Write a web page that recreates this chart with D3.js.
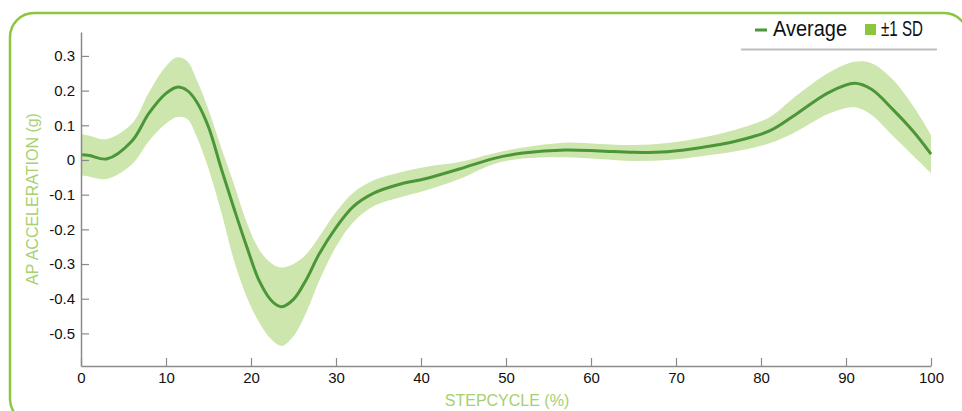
<!DOCTYPE html>
<html>
<head>
<meta charset="utf-8">
<script src="https://cdn.jsdelivr.net/npm/d3@7"></script>
<style>
  body { margin: 0; background: #fff; }
  svg { display: block; font-family: "Liberation Sans", Arial, sans-serif; }
</style>
</head>
<body>
<div id="chart"></div>
<script>
// step cycle (%) and AP acceleration (g)
const stepcycle = [0, 1, 3, 6, 8, 10, 11.3, 12.5, 13.6, 15, 16.5, 18, 19.5, 21, 22.5, 23.6, 25, 26.5, 28, 30,
  32, 34.5, 37.5, 40.5, 44.5, 48.5, 52, 57, 61, 65, 69, 73, 77, 81, 84, 88, 91, 93, 95.5, 98, 100]
const average = [0.015, 0.013, 0.003, 0.055, 0.135, 0.192, 0.21, 0.2, 0.168, 0.095, -0.025, -0.14, -0.25, -0.35, -0.408, -0.423, -0.402, -0.345, -0.272, -0.195,
  -0.135, -0.095, -0.07, -0.054, -0.026, 0.004, 0.02, 0.029, 0.026, 0.022, 0.024, 0.036, 0.054, 0.084, 0.13, 0.195, 0.221, 0.204, 0.146, 0.08, 0.017]
const sdUpper = [0.075, 0.07, 0.06, 0.105, 0.195, 0.27, 0.296, 0.285, 0.232, 0.145, 0.035, -0.07, -0.18, -0.26, -0.3, -0.31, -0.3, -0.272, -0.222, -0.15,
  -0.095, -0.058, -0.036, -0.02, -0.006, 0.019, 0.036, 0.05, 0.046, 0.043, 0.049, 0.064, 0.087, 0.123, 0.182, 0.252, 0.283, 0.279, 0.232, 0.152, 0.072]
const sdLower = [-0.045, -0.048, -0.055, -0.012, 0.055, 0.105, 0.124, 0.118, 0.068, -0.025, -0.15, -0.29, -0.395, -0.47, -0.52, -0.536, -0.508, -0.44, -0.35, -0.25,
  -0.18, -0.132, -0.108, -0.088, -0.055, -0.012, 0.004, 0.008, 0.003, -0.003, 0.0, 0.011, 0.025, 0.048, 0.08, 0.134, 0.152, 0.13, 0.07, 0.01, -0.038]
const xTicks = [0, 10, 20, 30, 40, 50, 60, 70, 80, 90, 100]
const yTicks = [0.3, 0.2, 0.1, 0, -0.1, -0.2, -0.3, -0.4, -0.5]

const width = 962
const height = 411
const green = '#8cc63f'
const lineGreen = '#4b9638'
const bandGreen = '#cde6ad'

const svg = d3.select('#chart').append('svg')
  .attr('width', width)
  .attr('height', height)

// frame
svg.append('rect')
  .attr('x', 10).attr('y', 13)
  .attr('width', 958).attr('height', 410)
  .attr('rx', 24).attr('ry', 24)
  .attr('fill', 'none')
  .attr('stroke', green)
  .attr('stroke-width', 2.5)

const x = d3.scaleLinear().domain([0, 100]).range([81, 931])
const y = d3.scaleLinear().domain([-0.594, 0.369]).range([366, 32])

const rows = stepcycle.map((s, i) => ({ s, avg: average[i], hi: sdUpper[i], lo: sdLower[i] }))

svg.append('path')
  .datum(rows)
  .attr('fill', bandGreen)
  .attr('d', d3.area()
    .x(d => x(d.s))
    .y0(d => y(d.lo))
    .y1(d => y(d.hi))
    .curve(d3.curveCatmullRom))

svg.append('path')
  .datum(rows)
  .attr('fill', 'none')
  .attr('stroke', lineGreen)
  .attr('stroke-width', 3)
  .attr('d', d3.line()
    .x(d => x(d.s))
    .y(d => y(d.avg))
    .curve(d3.curveCatmullRom))

const fmt = v => (v === 0 ? '0' : d3.format('.1f')(v).replace('−', '-'))

const gx = svg.append('g')
  .attr('transform', `translate(0,${y.range()[0]})`)
  .call(d3.axisBottom(x).tickValues(xTicks).tickSizeInner(-8).tickSizeOuter(0).tickPadding(6))
const gy = svg.append('g')
  .attr('transform', `translate(${x.range()[0]},0)`)
  .call(d3.axisLeft(y).tickValues(yTicks).tickFormat(fmt).tickSizeInner(-8).tickSizeOuter(0).tickPadding(6))

;[gx, gy].forEach(g => {
  g.select('.domain').attr('stroke', '#8a8a8a').attr('stroke-width', 1.5)
  g.selectAll('.tick line').attr('stroke', '#8a8a8a').attr('stroke-width', 1.2)
  g.selectAll('.tick text')
    .attr('fill', '#111')
    .style('font-size', '15px')
    .style('font-family', '"Liberation Sans", Arial, sans-serif')
})

// axis titles
svg.append('text')
  .attr('x', 507).attr('y', 406)
  .attr('text-anchor', 'middle')
  .attr('fill', '#a6d071')
  .style('font-size', '16px')
  .text('STEPCYCLE (%)')

svg.append('text')
  .attr('transform', 'translate(38,199) rotate(-90)')
  .attr('text-anchor', 'middle')
  .attr('fill', '#a6d071')
  .style('font-size', '16px')
  .text('AP ACCELERATION (g)')

// legend
const legend = svg.append('g')
legend.append('line')
  .attr('x1', 755).attr('x2', 767).attr('y1', 30).attr('y2', 30)
  .attr('stroke', lineGreen).attr('stroke-width', 3)
legend.append('text')
  .attr('x', 773).attr('y', 36)
  .attr('textLength', 74).attr('lengthAdjust', 'spacingAndGlyphs')
  .attr('fill', '#111')
  .style('font-size', '22px')
  .text('Average')
legend.append('rect')
  .attr('x', 865).attr('y', 24).attr('width', 11).attr('height', 11)
  .attr('fill', green)
legend.append('text')
  .attr('x', 881).attr('y', 36)
  .attr('textLength', 42).attr('lengthAdjust', 'spacingAndGlyphs')
  .attr('fill', '#111')
  .style('font-size', '22px')
  .text('±1 SD')
legend.append('line')
  .attr('x1', 741).attr('x2', 937).attr('y1', 49.5).attr('y2', 49.5)
  .attr('stroke', '#bdbdbd').attr('stroke-width', 2)
</script>
</body>
</html>
